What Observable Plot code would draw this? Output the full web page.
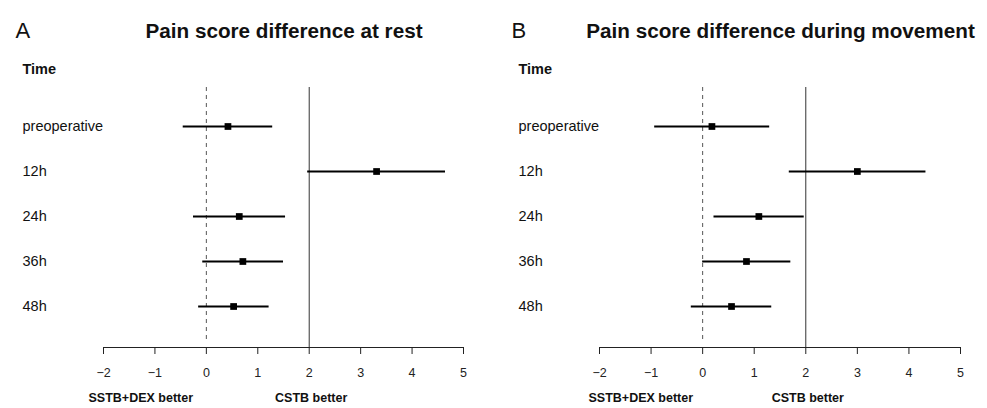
<!DOCTYPE html>
<html>
<head>
<meta charset="utf-8">
<script src="https://cdn.jsdelivr.net/npm/d3@7"></script>
<script src="https://cdn.jsdelivr.net/npm/@observablehq/plot@0.6"></script>
<style>
  html, body { margin: 0; padding: 0; background: #fff; }
  #wrap { display: flex; width: 987px; height: 408px; font-family: "Liberation Sans", Arial, sans-serif; }
</style>
</head>
<body>
<div id="wrap"></div>
<script>
// ---- data ----
const times = ["preoperative", "12h", "24h", "36h", "48h"];

const restEst   = [0.42, 3.31, 0.64, 0.71, 0.53];
const restLower = [-0.45, 1.97, -0.25, -0.07, -0.15];
const restUpper = [1.29, 4.65, 1.54, 1.50, 1.22];

const moveEst   = [0.18, 3.00, 1.09, 0.85, 0.56];
const moveLower = [-0.93, 1.68, 0.22, 0.00, -0.22];
const moveUpper = [1.30, 4.33, 1.97, 1.71, 1.34];

const xTicks = [-2, -1, 0, 1, 2, 3, 4, 5];
const nullValue = 0;
const refValue = 2;

const panels = [
  {letter: "A", title: "Pain score difference at rest", est: restEst, lo: restLower, hi: restUpper,
   width: 494, ml: 103, mr: 31, titleX: 283.5, letterX: 15, rowX: 22, leftLabX: 140.3, rightLabX: 310.7},
  {letter: "B", title: "Pain score difference during movement", est: moveEst, lo: moveLower, hi: moveUpper,
   width: 493, ml: 105, mr: 27, titleX: 286, letterX: 17, rowX: 24, leftLabX: 146.3, rightLabX: 313.3}
];

const H = 408, MT = 87, MB = 61;
const font = "Liberation Sans, Arial, sans-serif";
const fmt = d3.format("d");

for (const p of panels) {
  const rows = times.map((t, i) => ({time: t, est: p.est[i], lo: p.lo[i], hi: p.hi[i]}));
  const chart = Plot.plot({
    width: p.width,
    height: H,
    marginLeft: p.ml,
    marginRight: p.mr,
    marginTop: MT,
    marginBottom: MB,
    style: {fontFamily: font, background: "#fff", overflow: "visible"},
    x: {domain: [-2, 5]},
    y: {type: "point", domain: times, range: [125, 307.7], padding: 0, axis: null},
    marks: [
      Plot.frame({anchor: "bottom", stroke: "#222"}),
      Plot.axisX({ticks: xTicks, tickFormat: fmt, tickSize: 7, tickPadding: 14, fontSize: 12.5, stroke: "#222", color: "#222"}),
      Plot.ruleX([nullValue], {stroke: "#555", strokeDasharray: "4,4", insetBottom: 6}),
      Plot.ruleX([refValue], {stroke: "#333", strokeWidth: 1}),
      Plot.ruleY(rows, {y: "time", x1: "lo", x2: "hi", stroke: "#000", strokeWidth: 2}),
      Plot.dot(rows, {x: "est", y: "time", symbol: "square", r: 3.8, fill: "#000", stroke: null}),
      Plot.text(rows, {y: "time", text: "time", frameAnchor: "left", dx: p.rowX - p.ml, textAnchor: "start", fontSize: 14.5, fill: "#111"}),
      Plot.text(["Time"], {frameAnchor: "top-left", dx: p.rowX - p.ml, dy: 63 - MT, textAnchor: "start", fontSize: 14.5, fontWeight: "bold", fill: "#111"}),
      Plot.text([p.title], {frameAnchor: "top-left", dx: p.titleX - p.ml, dy: 23 - MT, textAnchor: "middle", fontSize: 20.7, fontWeight: "bold", fill: "#111"}),
      Plot.text([p.letter], {frameAnchor: "top-left", dx: p.letterX - p.ml, dy: 22 - MT, textAnchor: "start", fontSize: 22, fill: "#111"}),
      Plot.text(["SSTB+DEX better"], {frameAnchor: "bottom-left", dx: p.leftLabX - p.ml, dy: 54, textAnchor: "middle", fontSize: 12.5, fontWeight: "bold", fill: "#111"}),
      Plot.text(["CSTB better"], {frameAnchor: "bottom-left", dx: p.rightLabX - p.ml, dy: 54, textAnchor: "middle", fontSize: 12.5, fontWeight: "bold", fill: "#111"})
    ]
  });
  document.getElementById("wrap").appendChild(chart);
}
</script>
</body>
</html>
